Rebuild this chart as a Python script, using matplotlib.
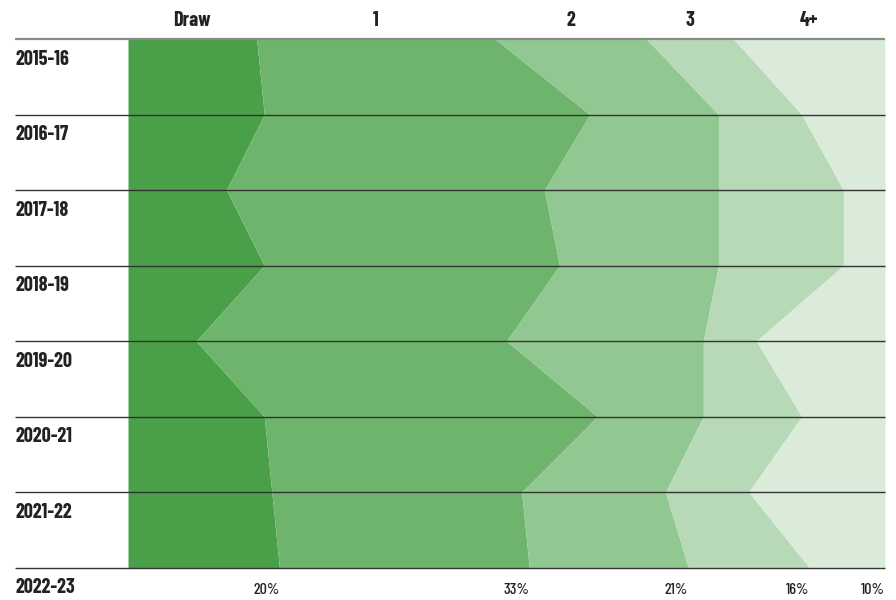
import matplotlib
matplotlib.use("Agg")
import matplotlib.pyplot as plt
import matplotlib.transforms as mtransforms
import numpy as np

# Share of results per season, by goal margin (percent of matches)
seasons = ["2015-16", "2016-17", "2017-18", "2018-19",
           "2019-20", "2020-21", "2021-22", "2022-23"]
categories = ["Draw", "1", "2", "3", "4+"]
draw    = [17.0, 18.0, 13.0, 18.0,  9.0, 18.0, 19.0, 20.0]
margin1 = [31.5, 43.0, 42.0, 39.0, 41.0, 44.0, 33.0, 33.0]
margin2 = [20.0, 17.0, 23.0, 21.0, 26.0, 14.0, 19.0, 21.0]
margin3 = [11.5, 11.0, 16.5, 16.5,  7.0, 13.0, 11.0, 16.0]
margin4 = [20.0, 11.0,  5.5,  5.5, 17.0, 11.0, 18.0, 10.0]
colors = ["#4aa048", "#6eb46c", "#91c791", "#b8d9b7", "#dbebda"]

series = [draw, margin1, margin2, margin3, margin4]

W, H = 896, 600
fig = plt.figure(figsize=(W / 100, H / 100), dpi=100)
ax = fig.add_axes([128 / W, 32.5 / H, (885 - 128) / W, (567.5 - 39) / H])

font = ["Barlow Condensed", "DejaVu Sans"]
text_color = "#222222"

y = np.arange(len(seasons))
vals = np.array(series, dtype=float)
cum = np.vstack([np.zeros(len(seasons)), np.cumsum(vals, axis=0)])

for i, c in enumerate(colors):
    ax.fill_betweenx(y, cum[i], cum[i + 1], color=c, linewidth=0)

ax.set_xlim(0, 100)
ax.set_ylim(len(seasons) - 1, 0)
ax.axis("off")

# Row separators run from the label column to the right edge
blend = mtransforms.blended_transform_factory(fig.transFigure, ax.transData)
for k in range(len(seasons)):
    col = "#8a8a8a" if k == 0 else "#333333"
    lw = 1.6 if k == 0 else 1.0
    ax.plot([15 / W, 885 / W], [k, k], transform=blend, color=col,
            linewidth=lw, clip_on=False, solid_capstyle="butt", zorder=3)

# Season labels under each separator
for k, s in enumerate(seasons):
    ax.text(15 / W, k + 0.27, s, transform=blend, ha="left", va="center",
            family=font, fontweight="bold", fontsize=14.5, color=text_color)

# Category headers centred over the first season's bands
top = mtransforms.blended_transform_factory(ax.transData, fig.transFigure)
for i, name in enumerate(categories):
    xc = (cum[i][0] + cum[i + 1][0]) / 2
    ax.text(xc, 1 - 21 / H, name, transform=top, ha="center", va="center",
            family=font, fontweight="bold", fontsize=14.5, color=text_color)

# Latest season's shares, aligned to the right end of each band
last = len(seasons) - 1
for i in range(len(categories)):
    ax.text(cum[i + 1][last], last + 0.3, f"{vals[i][last]:.0f}%",
            ha="right", va="center", family=font, fontweight="medium",
            fontsize=11.5, color=text_color, clip_on=False)

fig.savefig("out.png", dpi=100)
